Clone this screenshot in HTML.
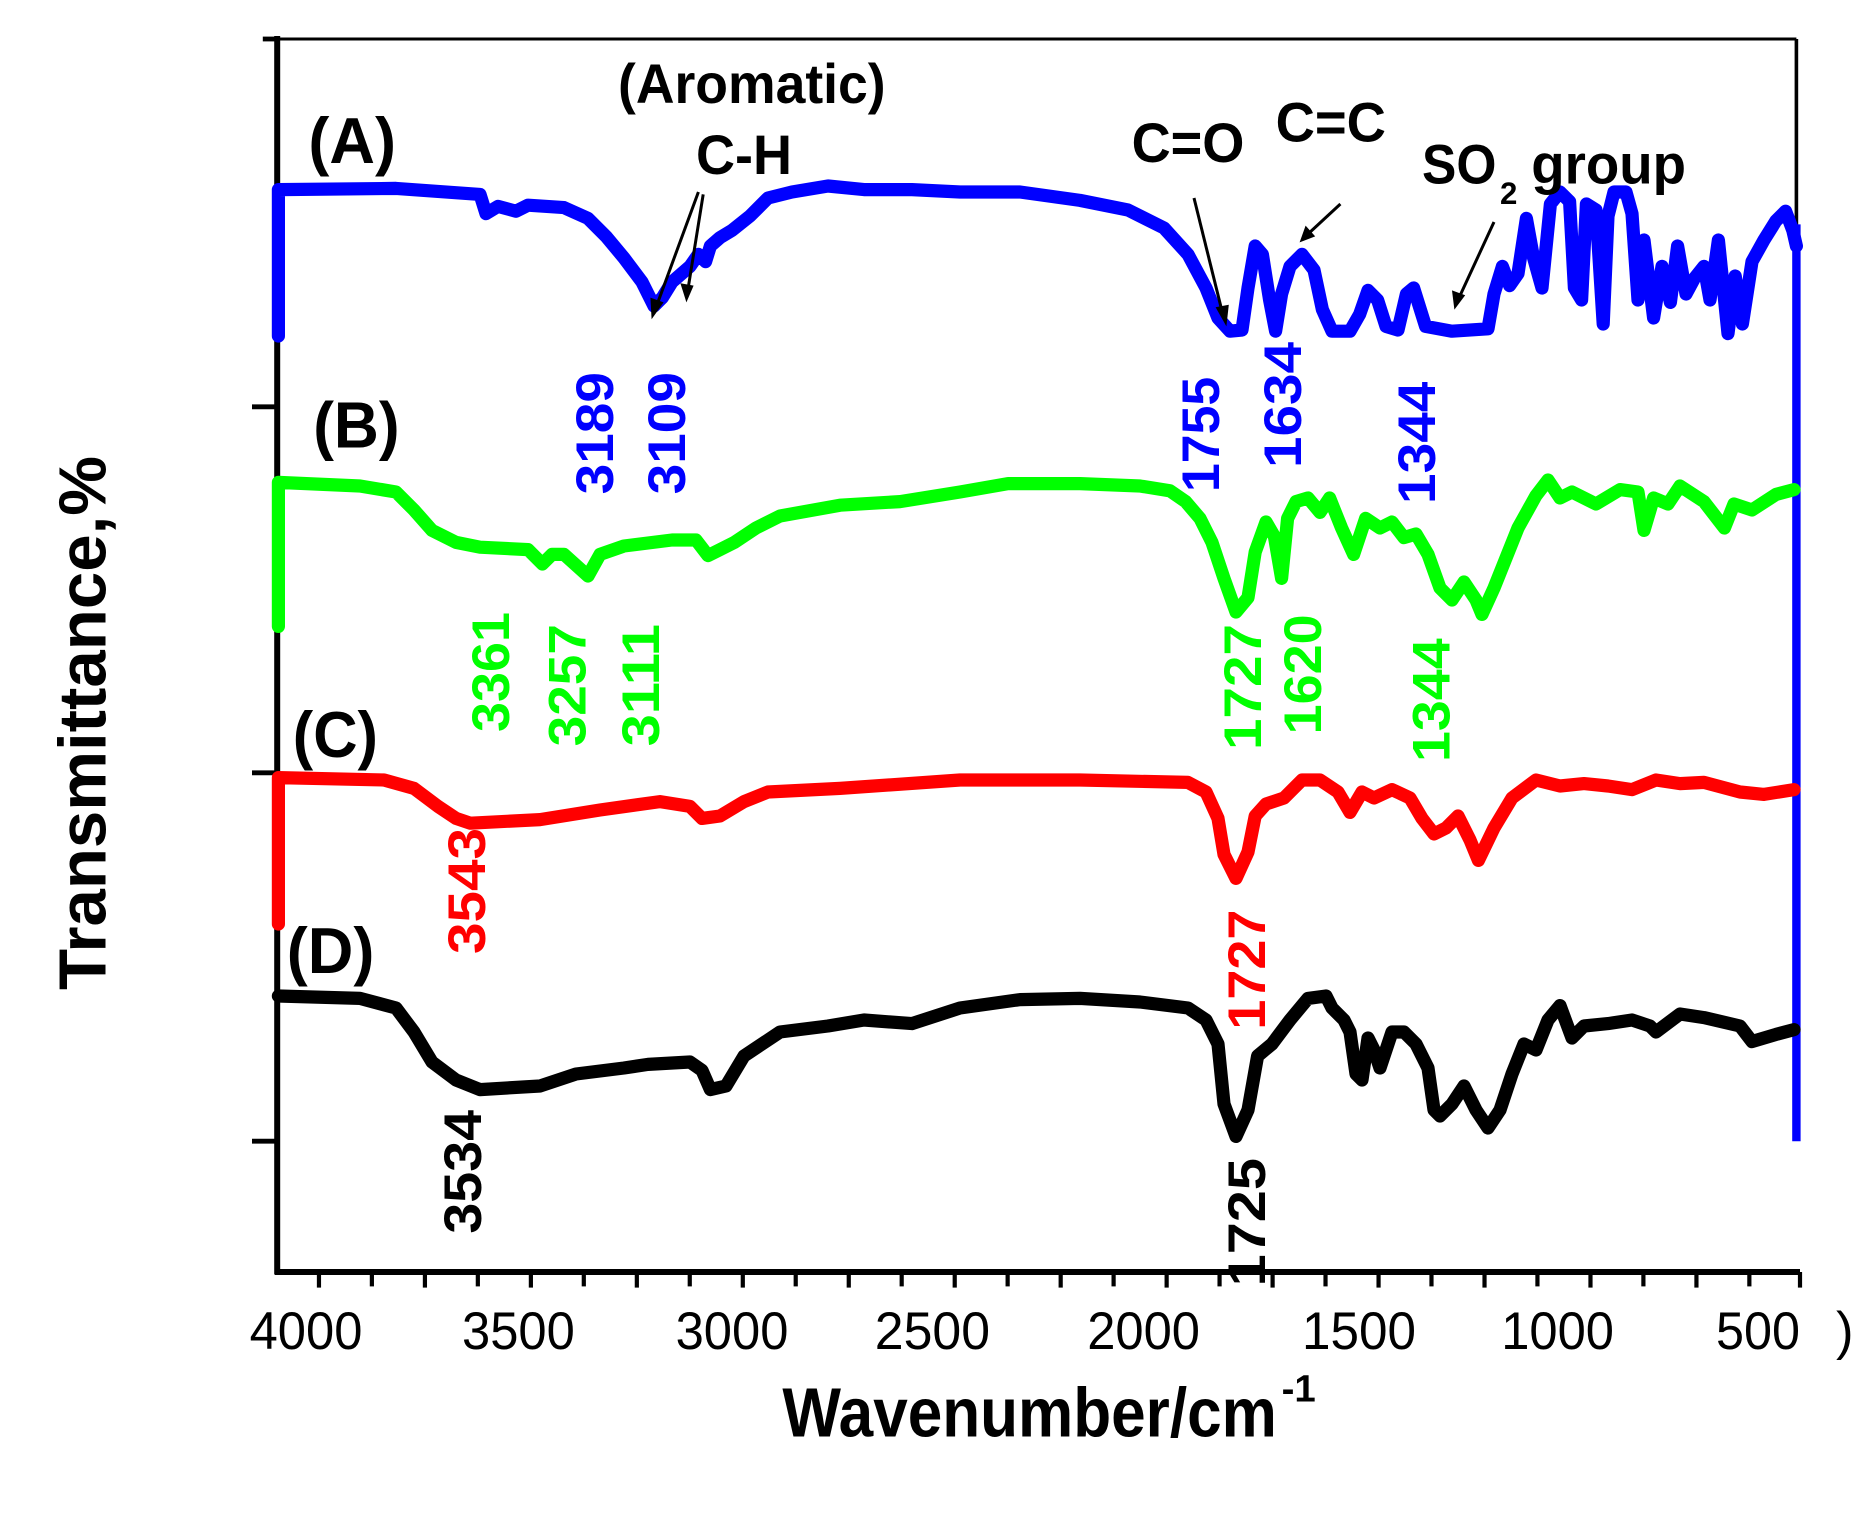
<!DOCTYPE html>
<html><head><meta charset="utf-8"><style>html,body{margin:0;padding:0;background:#fff}svg{display:block}</style></head>
<body>
<svg width="1875" height="1525" viewBox="0 0 1875 1525" xmlns="http://www.w3.org/2000/svg">
<g transform="scale(1.2)" font-family="Liberation Sans, Arial, sans-serif">
<!-- axes -->
<line x1="231" y1="32.5" x2="1497" y2="32.5" stroke="#000" stroke-width="2.5"/>
<line x1="231" y1="30" x2="231" y2="1062" stroke="#000" stroke-width="5"/>
<line x1="229" y1="1060" x2="1500" y2="1060" stroke="#000" stroke-width="5"/>
<line x1="1497" y1="32.5" x2="1497" y2="188" stroke="#000" stroke-width="3"/>
<line x1="1497" y1="187" x2="1497" y2="951" stroke="#00f" stroke-width="7"/>
<g stroke="#000" stroke-width="4">
<line x1="219" y1="32.5" x2="231" y2="32.5"/>
<line x1="210" y1="339" x2="231" y2="339"/>
<line x1="210" y1="644" x2="231" y2="644"/>
<line x1="210" y1="951" x2="231" y2="951"/>
</g>
<g stroke="#000" stroke-width="3.5">
<line x1="265.8" y1="1060" x2="265.8" y2="1073"/><line x1="309.9" y1="1060" x2="309.9" y2="1072"/>
<line x1="354.1" y1="1060" x2="354.1" y2="1073"/><line x1="398.2" y1="1060" x2="398.2" y2="1072"/>
<line x1="442.4" y1="1060" x2="442.4" y2="1073"/><line x1="486.5" y1="1060" x2="486.5" y2="1072"/>
<line x1="530.7" y1="1060" x2="530.7" y2="1073"/><line x1="574.8" y1="1060" x2="574.8" y2="1072"/>
<line x1="619" y1="1060" x2="619" y2="1073"/><line x1="663.1" y1="1060" x2="663.1" y2="1072"/>
<line x1="707.3" y1="1060" x2="707.3" y2="1073"/><line x1="751.4" y1="1060" x2="751.4" y2="1072"/>
<line x1="795.6" y1="1060" x2="795.6" y2="1073"/><line x1="839.7" y1="1060" x2="839.7" y2="1072"/>
<line x1="883.9" y1="1060" x2="883.9" y2="1073"/><line x1="928" y1="1060" x2="928" y2="1072"/>
<line x1="972.2" y1="1060" x2="972.2" y2="1073"/><line x1="1016.3" y1="1060" x2="1016.3" y2="1072"/>
<line x1="1060.5" y1="1060" x2="1060.5" y2="1073"/><line x1="1104.6" y1="1060" x2="1104.6" y2="1072"/>
<line x1="1148.8" y1="1060" x2="1148.8" y2="1073"/><line x1="1192.9" y1="1060" x2="1192.9" y2="1072"/>
<line x1="1237.1" y1="1060" x2="1237.1" y2="1073"/><line x1="1281.2" y1="1060" x2="1281.2" y2="1072"/>
<line x1="1325.4" y1="1060" x2="1325.4" y2="1073"/><line x1="1369.5" y1="1060" x2="1369.5" y2="1072"/>
<line x1="1413.7" y1="1060" x2="1413.7" y2="1073"/><line x1="1457.8" y1="1060" x2="1457.8" y2="1072"/>
<line x1="1500" y1="1060" x2="1500" y2="1073"/>
</g>
<g font-size="44" fill="#000" lengthAdjust="spacingAndGlyphs">
<text x="208" y="1124" textLength="94" lengthAdjust="spacingAndGlyphs">4000</text>
<text x="385" y="1124" textLength="94" lengthAdjust="spacingAndGlyphs">3500</text>
<text x="563" y="1124" textLength="94" lengthAdjust="spacingAndGlyphs">3000</text>
<text x="729" y="1124" textLength="96" lengthAdjust="spacingAndGlyphs">2500</text>
<text x="906" y="1124" textLength="94" lengthAdjust="spacingAndGlyphs">2000</text>
<text x="1085" y="1124" textLength="95" lengthAdjust="spacingAndGlyphs">1500</text>
<text x="1251" y="1124" textLength="94" lengthAdjust="spacingAndGlyphs">1000</text>
<text x="1430" y="1124" textLength="70" lengthAdjust="spacingAndGlyphs">500</text>
<text x="1530" y="1124">)</text>
</g>
<!-- traces -->
<g fill="none" stroke-width="11" stroke-linejoin="round" stroke-linecap="round">
<polyline stroke="#00f" points="232,280 232,158 330,157 400,162 405,178 415,172 430,176 440,171 470,173 490,182 505,197 520,215 535,235 545,255 552,248 560,235 575,222 582,212 588,218 592,205 600,198 610,192 625,180 640,165 660,160 690,155 720,158 760,158 800,160 850,160 900,167 940,175 970,190 990,212 1005,240 1015,265 1025,276 1035,275 1040,240 1046,205 1052,212 1058,250 1063,276 1068,245 1075,222 1085,212 1095,225 1102,258 1110,276 1125,276 1133,262 1140,242 1148,250 1155,272 1165,275 1172,245 1178,240 1188,272 1210,276 1240,274 1245,245 1252,222 1258,238 1265,228 1272,182 1278,215 1285,240 1292,170 1300,160 1308,168 1312,240 1318,250 1322,170 1330,175 1336,270 1340,180 1345,160 1355,160 1360,178 1365,250 1370,200 1378,265 1385,222 1392,252 1398,205 1405,245 1412,232 1420,222 1425,250 1432,200 1440,278 1446,230 1452,270 1460,218 1470,200 1480,184 1488,176 1494,192 1497,205"/>
<polyline stroke="#0f0" points="232,522 232,402 300,405 330,410 345,425 360,442 380,452 400,456 440,458 452,470 460,462 470,462 490,480 500,462 520,455 560,450 580,450 590,463 600,458 612,452 630,440 650,430 700,421 750,418 800,410 840,403 900,403 950,405 975,409 988,418 1000,432 1010,452 1020,482 1030,510 1040,498 1046,460 1055,435 1062,447 1068,482 1073,432 1080,418 1090,415 1100,427 1108,415 1118,440 1128,462 1138,432 1150,440 1160,435 1170,448 1180,445 1190,462 1200,490 1210,500 1220,485 1230,500 1235,512 1245,490 1255,465 1265,440 1280,413 1290,400 1300,415 1310,410 1330,420 1350,408 1365,410 1370,442 1378,415 1390,420 1400,405 1420,418 1437,440 1445,420 1460,425 1480,412 1495,408"/>
<polyline stroke="#f00" points="232,770 232,648 320,650 345,657 365,672 380,682 392,686 450,683 500,675 550,668 575,672 585,682 600,680 620,668 640,660 700,657 800,650 900,650 990,652 1005,660 1015,682 1020,712 1030,732 1040,710 1046,680 1055,670 1070,665 1085,650 1100,650 1115,660 1125,677 1135,660 1145,665 1160,658 1175,665 1185,682 1195,695 1205,690 1215,680 1225,700 1232,717 1245,690 1260,665 1280,650 1300,655 1320,653 1340,655 1360,658 1380,650 1400,653 1420,652 1450,660 1470,662 1495,658"/>
<polyline stroke="#000" points="232,830 300,832 330,840 345,860 360,885 380,900 400,908 450,905 480,895 520,890 540,887 575,885 585,892 592,908 605,905 620,880 650,860 690,855 720,850 760,853 800,840 850,833 900,832 950,835 990,840 1005,850 1015,870 1020,920 1030,947 1040,925 1048,880 1060,870 1075,850 1090,832 1105,830 1110,840 1120,850 1125,860 1130,895 1135,900 1140,865 1145,875 1150,890 1160,860 1170,860 1180,870 1190,890 1195,925 1200,930 1210,920 1220,905 1230,925 1240,940 1250,925 1260,895 1270,870 1280,875 1290,850 1300,838 1310,865 1320,855 1340,853 1360,850 1375,855 1380,860 1400,845 1420,848 1450,855 1460,868 1480,862 1495,858"/>
</g>
<!-- arrows -->
<g stroke="#000" stroke-width="2.5">
<line x1="582" y1="160" x2="546" y2="258"/><line x1="586" y1="162" x2="573" y2="243"/>
<line x1="995" y1="165" x2="1019" y2="262"/><line x1="1117" y1="170" x2="1090" y2="195"/>
<line x1="1245" y1="185" x2="1215" y2="250"/>
</g>
<g fill="#000">
<polygon points="543,266 542,248 553,252"/><polygon points="572,252 567,236 578,238"/>
<polygon points="1022,272 1013,256 1024,254"/><polygon points="1083,202 1088,188 1096,197"/>
<polygon points="1212,258 1210,242 1221,246"/>
</g>
<!-- annotations -->
<g font-weight="bold" fill="#000" font-size="54">
<text x="257" y="136" textLength="73" lengthAdjust="spacingAndGlyphs">(A)</text>
<text x="261" y="373" textLength="72" lengthAdjust="spacingAndGlyphs">(B)</text>
<text x="244" y="631" textLength="71" lengthAdjust="spacingAndGlyphs">(C)</text>
<text x="239" y="811" textLength="73" lengthAdjust="spacingAndGlyphs">(D)</text>
</g>
<g font-weight="bold" fill="#000" font-size="46">
<text x="515" y="86" textLength="223" lengthAdjust="spacingAndGlyphs">(Aromatic)</text>
<text x="580" y="145" textLength="80" lengthAdjust="spacingAndGlyphs">C-H</text>
<text x="943" y="135" textLength="94" lengthAdjust="spacingAndGlyphs">C=O</text>
<text x="1063" y="118" textLength="92" lengthAdjust="spacingAndGlyphs">C=C</text>
<text x="1185" y="153" textLength="62" lengthAdjust="spacingAndGlyphs">SO</text>
<text x="1250" y="170" font-size="26">2</text>
<text x="1276" y="153" textLength="129" lengthAdjust="spacingAndGlyphs">group</text>
</g>
<g font-weight="bold" font-size="44">
<g fill="#00f">
<text transform="translate(511,412) rotate(-90)" textLength="102" lengthAdjust="spacingAndGlyphs">3189</text>
<text transform="translate(571,412) rotate(-90)" textLength="102" lengthAdjust="spacingAndGlyphs">3109</text>
<text transform="translate(1016,410) rotate(-90)" textLength="96" lengthAdjust="spacingAndGlyphs">1755</text>
<text transform="translate(1084,390) rotate(-90)" textLength="105" lengthAdjust="spacingAndGlyphs">1634</text>
<text transform="translate(1196,420) rotate(-90)" textLength="102" lengthAdjust="spacingAndGlyphs">1344</text>
</g>
<g fill="#0f0">
<text transform="translate(424,610) rotate(-90)" textLength="100" lengthAdjust="spacingAndGlyphs">3361</text>
<text transform="translate(488,622) rotate(-90)" textLength="102" lengthAdjust="spacingAndGlyphs">3257</text>
<text transform="translate(549,622) rotate(-90)" textLength="102" lengthAdjust="spacingAndGlyphs">3111</text>
<text transform="translate(1051,625) rotate(-90)" textLength="105" lengthAdjust="spacingAndGlyphs">1727</text>
<text transform="translate(1101,612) rotate(-90)" textLength="100" lengthAdjust="spacingAndGlyphs">1620</text>
<text transform="translate(1208,635) rotate(-90)" textLength="103" lengthAdjust="spacingAndGlyphs">1344</text>
</g>
<g fill="#f00">
<text transform="translate(404,795) rotate(-90)" textLength="105" lengthAdjust="spacingAndGlyphs">3543</text>
<text transform="translate(1054,858) rotate(-90)" textLength="100" lengthAdjust="spacingAndGlyphs">1727</text>
</g>
<g fill="#000">
<text transform="translate(401,1028) rotate(-90)" textLength="103" lengthAdjust="spacingAndGlyphs">3534</text>
<text transform="translate(1054,1072) rotate(-90)" textLength="107" lengthAdjust="spacingAndGlyphs">1725</text>
</g>
</g>
<text transform="translate(88,825) rotate(-90)" font-weight="bold" font-size="56" textLength="445" lengthAdjust="spacingAndGlyphs">Transmittance,%</text>
<text x="652" y="1197" font-weight="bold" font-size="58" textLength="412" lengthAdjust="spacingAndGlyphs">Wavenumber/cm</text>
<text x="1068" y="1168" font-weight="bold" font-size="32">-1</text>
</g>
</svg>
</body></html>
